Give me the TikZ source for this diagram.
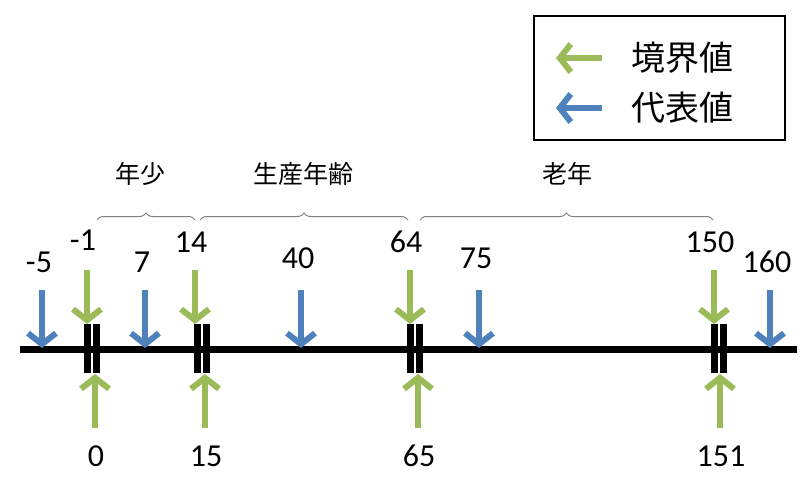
\documentclass[tikz,border=0pt]{standalone}
\usepackage{fontspec}
\setmainfont{Carlito}
\newfontfamily\cjk{Noto Sans CJK JP}
\usetikzlibrary{arrows.meta,decorations.pathreplacing}
\definecolor{grn}{HTML}{9BBB59}
\definecolor{blu}{HTML}{4F81BD}
\begin{document}
\begin{tikzpicture}[x=1pt,y=-1pt,
  arr/.style={line width=6pt,-{Straight Barb[length=11pt,width=28pt,line width=6pt]}},
  ga/.style={arr,draw=grn},
  ba/.style={arr,draw=blu},
  bar/.style={fill=black,minimum width=7pt,minimum height=49pt,inner sep=0pt},
  num/.style={font=\fontsize{32}{36}\selectfont,inner sep=0pt},
  jp/.style={font=\cjk\fontsize{25}{28}\selectfont,inner sep=0pt},
  br/.style={draw=gray,line width=1pt,decorate,decoration={brace,amplitude=7pt}}]
\useasboundingbox (0,0) rectangle (812,495);
% axis
\coordinate (L) at (20,349); \coordinate (R) at (797,349);
\draw[line width=7pt] (L) -- (R);
% bars
\foreach \n/\x in {a1/87,a2/96,b1/197,b2/206,c1/410,c2/419,d1/714,d2/723}
  \node[bar] (\n) at (\x,348) {};
% green down
\foreach \n/\x/\t/\ly in {m1/87/-1/240,m14/195/14/242,m64/410/64/242,m150/714/150/242}{
  \coordinate (\n s) at (\x,270); \coordinate (\n e) at (\x,324);
  \draw[ga] (\n s) -- (\n e);
  \node[num] (\n l) at (\x-4,\ly) {\t};}
% blue down
\foreach \n/\x/\t/\ly in {v5/42/-5/262,v7/145/7/262,v40/301/40/258,v75/479/75/258,v160/770/160/262}{
  \coordinate (\n s) at (\x,290); \coordinate (\n e) at (\x,348);
  \draw[ba] (\n s) -- (\n e);
  \node[num] (\n l) at (\x-3,\ly) {\t};}
% green up
\foreach \n/\x/\t in {u0/95/0,u15/205/15,u65/418/65,u151/720/151}{
  \coordinate (\n s) at (\x,428); \coordinate (\n e) at (\x,374);
  \draw[ga] (\n s) -- (\n e);
  \node[num] (\n l) at (\x+1,456) {\t};}
% braces
\coordinate (b1a) at (97,220); \coordinate (b1b) at (195,220);
\coordinate (b2a) at (200,220); \coordinate (b2b) at (408,220);
\coordinate (b3a) at (420,220); \coordinate (b3b) at (713,220);
\draw[br] (b1a) -- (b1b);
\draw[br] (b2a) -- (b2b);
\draw[br] (b3a) -- (b3b);
\node[jp] (t1) at (140,174) {年少};
\node[jp] (t2) at (303,174) {生産年齢};
\node[jp] (t3) at (567,174) {老年};
% legend
\node[draw=black,line width=2pt,minimum width=251pt,minimum height=124pt] (leg) at (659,78) {};
\coordinate (g1) at (602,58); \coordinate (g2) at (556,58);
\draw[ga] (g1) -- (g2);
\coordinate (h1) at (602,108); \coordinate (h2) at (556,108);
\draw[ba] (h1) -- (h2);
\node[jp,font=\cjk\fontsize{34}{38}\selectfont] (lg) at (682,58) {境界値};
\node[jp,font=\cjk\fontsize{34}{38}\selectfont] (lb) at (682,108) {代表値};
\end{tikzpicture}
\end{document}
